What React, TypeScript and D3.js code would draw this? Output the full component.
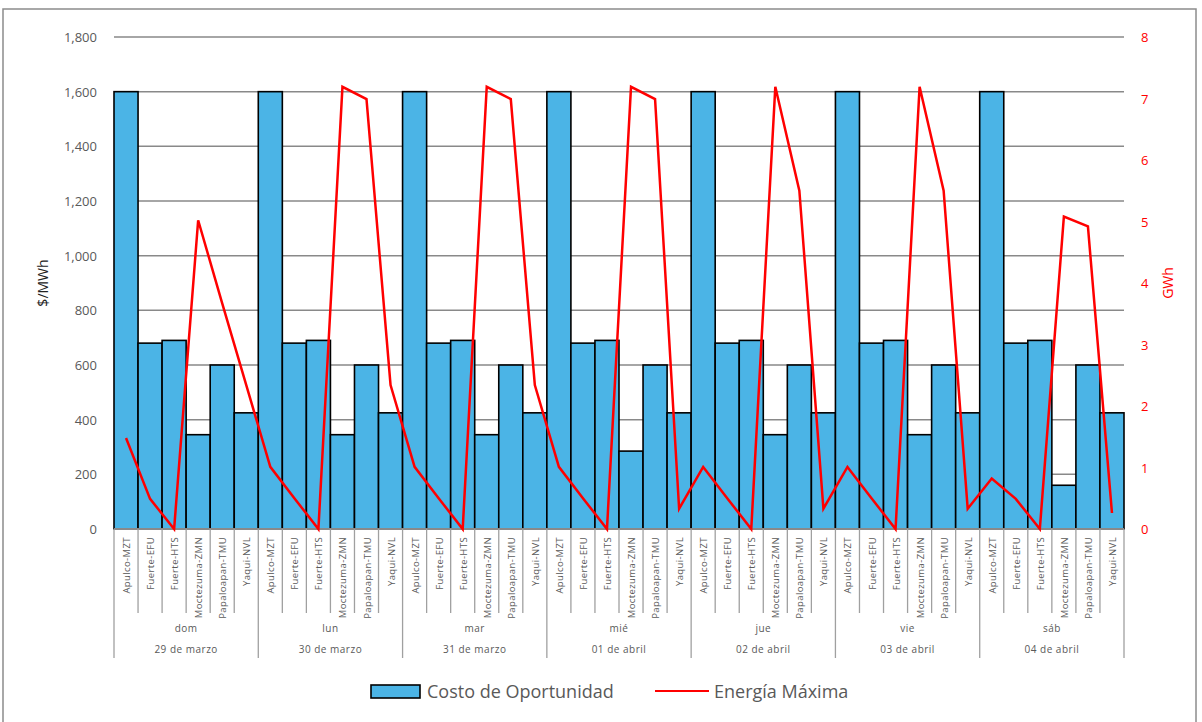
import React from "react";
import * as d3 from "d3";

const days = ["dom", "lun", "mar", "mié", "jue", "vie", "sáb"];
const dates = ["29 de marzo", "30 de marzo", "31 de marzo", "01 de abril", "02 de abril", "03 de abril", "04 de abril"];
const plants = ["Apulco-MZT", "Fuerte-EFU", "Fuerte-HTS", "Moctezuma-ZMN", "Papaloapan-TMU", "Yaqui-NVL"];

const costDom = [1600, 680, 690, 345, 600, 425];
const costLun = [1600, 680, 690, 345, 600, 425];
const costMar = [1600, 680, 690, 345, 600, 425];
const costMie = [1600, 680, 690, 285, 600, 425];
const costJue = [1600, 680, 690, 345, 600, 425];
const costVie = [1600, 680, 690, 345, 600, 425];
const costSab = [1600, 680, 690, 160, 600, 425];

const energyDom = [1.48, 0.49, 0, 5.02, 3.67, 2.34];
const energyLun = [1.01, 0.5, 0, 7.19, 6.99, 2.34];
const energyMar = [1.01, 0.5, 0, 7.19, 6.99, 2.34];
const energyMie = [1.01, 0.5, 0, 7.19, 6.99, 0.33];
const energyJue = [1.01, 0.5, 0, 7.19, 5.5, 0.33];
const energyVie = [1.01, 0.5, 0, 7.19, 5.5, 0.33];
const energySab = [0.82, 0.49, 0, 5.08, 4.92, 0.26];

const leftTicks = [0, 200, 400, 600, 800, 1000, 1200, 1400, 1600, 1800];
const rightTicks = [0, 1, 2, 3, 4, 5, 6, 7, 8];

const costs = [costDom, costLun, costMar, costMie, costJue, costVie, costSab];
const energies = [energyDom, energyLun, energyMar, energyMie, energyJue, energyVie, energySab];

type Row = { key: string; day: number; plant: string; cost: number; energy: number };
const rows: Row[] = [];
days.forEach((d, di) => {
  plants.forEach((p, pi) => {
    rows.push({ key: `${di}-${pi}`, day: di, plant: p, cost: costs[di][pi], energy: energies[di][pi] });
  });
});

const W = 1202;
const H = 722;
const L = 114;
const R = 1124;
const T = 37;
const B = 529;

export default function App() {
  const x = d3.scaleBand<string>().domain(rows.map((r) => r.key)).range([L, R]).paddingInner(0).paddingOuter(0);
  const yL = d3.scaleLinear().domain([0, 1800]).range([B, T]);
  const yR = d3.scaleLinear().domain([0, 8]).range([B, T]);
  const bw = x.bandwidth();
  const line = d3
    .line<Row>()
    .x((r) => (x(r.key) as number) + bw / 2)
    .y((r) => yR(r.energy));
  const font = "'Open Sans', 'Noto Sans', sans-serif";
  const gray = "#595959";
  const gridColor = "#898989";

  return (
    <svg width={W} height={H} style={{ position: "absolute", left: 0, top: 0 }} fontFamily={font}>
      <rect x={0} y={0} width={W} height={H} fill="#fff" />
      <rect x={3} y={9} width={1193} height={730} fill="none" stroke="#8c8c8c" strokeWidth={1.5} />
      {leftTicks.map((t) => (
        <g key={t}>
          {t > 0 && <line x1={L} x2={R} y1={yL(t)} y2={yL(t)} stroke={gridColor} strokeWidth={1.5} />}
          <text x={97} y={yL(t) + 5} textAnchor="end" fontSize={13} fill={gray}>
            {d3.format(",")(t)}
          </text>
        </g>
      ))}
      {rightTicks.map((t) => (
        <text key={t} x={1141} y={yR(t) + 5} textAnchor="start" fontSize={13} fill="#ff0000">
          {t}
        </text>
      ))}
      <text transform={`translate(48,283) rotate(-90)`} textAnchor="middle" fontSize={14} fill="#222">
        $/MWh
      </text>
      <text transform={`translate(1173,283) rotate(-90)`} textAnchor="middle" fontSize={14} fill="#ff0000">
        GWh
      </text>
      {rows.map((r) => (
        <rect
          key={r.key}
          x={x(r.key) as number}
          y={yL(r.cost)}
          width={bw}
          height={B - yL(r.cost)}
          fill="#4BB4E6"
          stroke="#000"
          strokeWidth={1.6}
        />
      ))}
      <line x1={L} x2={R} y1={B} y2={B} stroke={gridColor} strokeWidth={2} />
      {rows.map((r, i) => {
        const x0 = x(r.key) as number;
        const isGroup = i % 6 === 0;
        return (
          <g key={"c" + r.key}>
            <line x1={x0} x2={x0} y1={B} y2={isGroup ? 658 : 613} stroke="#a0a0a0" strokeWidth={1.3} />
            <text
              transform={`translate(${x0 + bw / 2 + 4},537) rotate(-90)`}
              textAnchor="end"
              fontSize={9.5}
              letterSpacing={0.4}
              fill={gray}
            >
              {r.plant}
            </text>
          </g>
        );
      })}
      <line x1={R} x2={R} y1={B} y2={658} stroke="#a0a0a0" strokeWidth={1.3} />
      {days.map((d, di) => {
        const x0 = x(`${di}-0`) as number;
        const cx = x0 + (bw * 6) / 2;
        return (
          <g key={d}>
            <text x={cx} y={632} textAnchor="middle" fontSize={10} letterSpacing={0.5} fill={gray}>
              {d}
            </text>
            <text x={cx} y={653} textAnchor="middle" fontSize={10} letterSpacing={0.5} fill={gray}>
              {dates[di]}
            </text>
          </g>
        );
      })}
      <path d={line(rows) || ""} fill="none" stroke="#ff0000" strokeWidth={2.5} strokeLinejoin="miter" />
      <rect x={371} y={685} width={49} height={13} fill="#4BB4E6" stroke="#000" strokeWidth={1.6} />
      <text x={427} y={698} fontSize={18} fill={gray}>
        Costo de Oportunidad
      </text>
      <line x1={655} x2={709} y1={691} y2={691} stroke="#ff0000" strokeWidth={2} />
      <text x={714} y={698} fontSize={18} fill={gray}>
        Energía Máxima
      </text>
    </svg>
  );
}
